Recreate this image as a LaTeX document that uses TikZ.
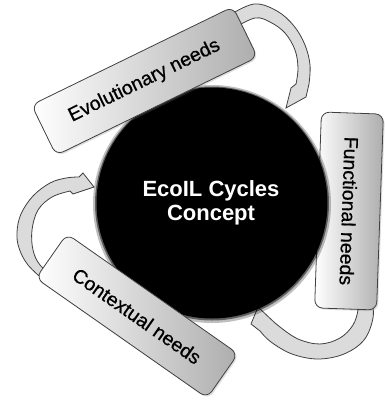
\documentclass[tikz,border=0pt]{standalone}
\usepackage{fontspec}
\setmainfont{Liberation Sans}
\newfontfamily\medfont[FakeBold=0.7]{Liberation Sans}
\usetikzlibrary{shadows}
\begin{document}
\begin{tikzpicture}[x=1pt,y=-1pt,
  needbox/.style={draw=black!75, line width=0.8pt, rounded corners=8pt,
    left color=white, right color=black!32, inner sep=0pt,
    font=\medfont\fontsize{19.5}{22}\selectfont,
    drop shadow={opacity=0.25, shadow xshift=1.5pt, shadow yshift=-1.5pt}},
  arrowbody/.style={draw=black!75, line width=0.8pt, fill=black!14},
  halo/.style={circle, inner sep=0pt, fill=black},
]
\useasboundingbox (0,0) rectangle (385,402);

% curved arrows
\draw[arrowbody] plot[smooth, tension=0.6] coordinates {(228,16) (254,4) (277,11) (294,26) (305,45) (310,65) (309,84)}
  -- (306,97) -- (286,108) -- (291,88)
  -- plot[smooth, tension=0.6] coordinates {(296,84) (298,68) (295,50) (285,33) (270,22) (255,18) (234,28)} -- cycle;

\draw[arrowbody] plot[smooth, tension=0.6] coordinates {(372,298) (373,318) (364,340) (344,354) (318,359) (292,354) (271,342) (260,331)}
  -- (251,324) -- (258,307) -- (275,323)
  -- plot[smooth, tension=0.6] coordinates {(280,327) (298,339) (320,344) (340,338) (353,325) (358,310) (358,298)} -- cycle;

\draw[arrowbody] plot[smooth, tension=0.6] coordinates {(46,282) (28,265) (19,248) (17,232) (21,214) (33,196) (50,183) (66,178) (79,177)}
  -- (83,173) -- (94,187) -- (73,194)
  -- plot[smooth, tension=0.6] coordinates {(70,191) (52,197) (38,210) (32,230) (33,250) (40,265) (54,276)} -- cycle;

% functional box (behind circle)
\node[needbox, rotate=-92, minimum width=196pt, minimum height=62pt] (func) at (349,211) {Functional needs};

% central circle
\node[halo, minimum size=238pt, opacity=0.25] (glow) at (212,204) {};
\node[halo, minimum size=234pt, opacity=0.5] (glow2) at (212,203.5) {};
\node[halo, minimum size=231pt] (core) at (212,203) {};

% other boxes
\node[needbox, rotate=26, minimum width=224pt, minimum height=56pt] (evo) at (144.5,81) {Evolutionary needs};
\node[needbox, rotate=-35, minimum width=209pt, minimum height=54pt] (ctx) at (137,316) {Contextual needs};

% title
\node[text=white, align=center, font=\bfseries\fontsize{22}{24}\selectfont] (title) at (211,203) {EcoIL Cycles\\Concept};
\end{tikzpicture}
\end{document}
